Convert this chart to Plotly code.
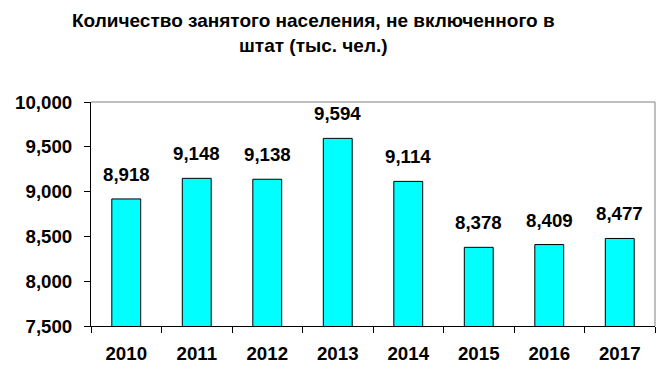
import plotly.graph_objects as go

years = ["2010", "2011", "2012", "2013", "2014", "2015", "2016", "2017"]
values = [8918, 9148, 9138, 9594, 9114, 8378, 8409, 8477]
labels = [f"{v:,}" for v in values]
title_text = "Количество занятого населения, не включенного в<br>штат (тыс. чел.)"

FONT = "Liberation Sans, Arial, sans-serif"

fig = go.Figure(go.Bar(
    x=years, y=values,
    marker=dict(color="#00FFFF", line=dict(color="black", width=1)),
    width=0.41,
    hoverinfo="x+y",
))

annotations = [dict(text=title_text, xref="paper", yref="paper", x=0.395, y=1 + (102 - 8) / 224,
                    xanchor="center", yanchor="top", showarrow=False, align="center",
                    font=dict(family=FONT, size=19, color="black", weight="bold"))]
for i, (v, lab) in enumerate(zip(values, labels)):
    # category axis: annotation x given as category index
    annotations.append(dict(text=lab, x=i, y=v, xref="x", yref="y", showarrow=False,
                            xanchor="center", yanchor="bottom", yshift=12,
                            font=dict(family=FONT, size=18.7, color="black", weight="bold")))

fig.update_layout(
    width=663, height=380,
    margin=dict(l=91, r=8, t=102, b=54, autoexpand=False),
    paper_bgcolor="white", plot_bgcolor="white",
    showlegend=False,
    font=dict(family=FONT, color="black"),
    xaxis=dict(type="category", showline=True, linecolor="black", linewidth=1, automargin=False,
               ticks="outside", tickson="boundaries", ticklen=6, tickcolor="black",
               ticklabelstandoff=11,
               tickfont=dict(family=FONT, size=18.7, color="black", weight="bold"),
               showgrid=False),
    yaxis=dict(range=[7500, 10000], dtick=500, tickformat=",d", automargin=False,
               showline=True, linecolor="black", linewidth=1,
               ticks="outside", ticklen=6, tickcolor="black",
               ticklabelstandoff=8,
               tickfont=dict(family=FONT, size=18.7, color="black", weight="bold"),
               showgrid=False, zeroline=False),
    annotations=annotations,
    shapes=[
        dict(type="line", xref="paper", yref="paper", x0=0, x1=1, y0=1, y1=1,
             line=dict(color="#808080", width=1)),
        dict(type="line", xref="paper", yref="paper", x0=1, x1=1, y0=0, y1=1,
             line=dict(color="#808080", width=1)),
    ],
)

fig.write_html("out.html", config={"displayModeBar": False},
               post_script="document.body.style.margin='0px';")
